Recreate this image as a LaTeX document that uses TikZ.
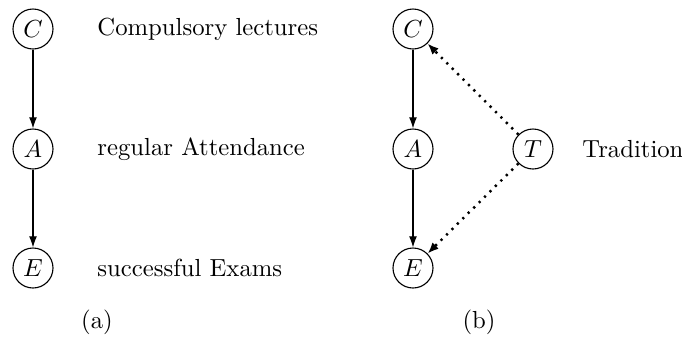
\documentclass[tikz,border=0pt]{standalone}
\usetikzlibrary{arrows.meta}
\begin{document}
\begin{tikzpicture}[x=0.405pt,y=-0.405pt,
  var/.style={draw,circle,minimum size=16.2pt,inner sep=0pt,line width=0.45pt},
  lbl/.style={anchor=west,inner sep=0pt},
  solidarr/.style={-{Latex[length=4.5pt,width=3.2pt]},line width=0.45pt},
  dotarr/.style={-{Latex[length=4.5pt,width=3.6pt]},line width=1pt,dash pattern=on 0.9pt off 2.2pt}]
\useasboundingbox (0,0) rectangle (682,340);
% (a)
\node[var] (C1) at (33,29) {$C$};
\node[var] (A1) at (33,149) {$A$};
\node[var] (E1) at (33,268) {$E$};
\node[lbl] (lC) at (97,29) {Compulsory lectures};
\node[lbl] (lA) at (97,149) {regular Attendance};
\node[lbl] (lE) at (97,268) {successful Exams};
\node (ca) at (97,322) {(a)};
\draw[solidarr] (C1) -- (A1);
\draw[solidarr] (A1) -- (E1);
% (b)
\node[var] (C2) at (413,29) {$C$};
\node[var] (A2) at (413,149) {$A$};
\node[var] (E2) at (413,268) {$E$};
\node[var] (T2) at (533,149) {$T$};
\node[lbl] (lT) at (582,149) {Tradition};
\node (cb) at (479,322) {(b)};
\draw[solidarr] (C2) -- (A2);
\draw[solidarr] (A2) -- (E2);
\draw[dotarr] (T2) -- (C2);
\draw[dotarr] (T2) -- (E2);
\end{tikzpicture}
\end{document}
